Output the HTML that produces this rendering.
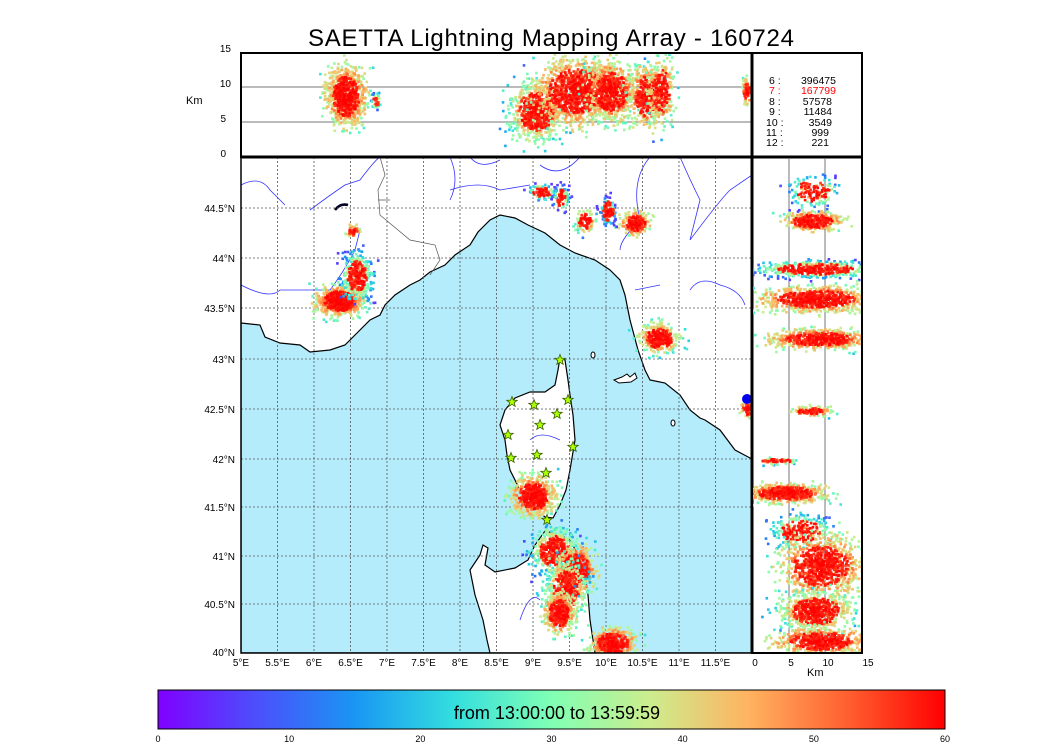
<!DOCTYPE html>
<html><head><meta charset="utf-8"><style>
body{margin:0;background:#fff;width:1050px;height:750px;overflow:hidden;font-family:"Liberation Sans",sans-serif}
svg text{font-family:"Liberation Sans",sans-serif}
</style></head><body>
<svg id="s" width="1050" height="750" viewBox="0 0 1050 750" xmlns="http://www.w3.org/2000/svg">
<defs>
<linearGradient id="rb" x1="0" x2="1" y1="0" y2="0">
<stop offset="0" stop-color="#8000ff"/><stop offset="0.125" stop-color="#4c4ffc"/>
<stop offset="0.25" stop-color="#1996f3"/><stop offset="0.375" stop-color="#33dedf"/>
<stop offset="0.5" stop-color="#80ffb4"/><stop offset="0.625" stop-color="#cced8e"/>
<stop offset="0.75" stop-color="#ffb360"/><stop offset="0.875" stop-color="#ff6030"/>
<stop offset="1" stop-color="#ff0000"/></linearGradient>
<clipPath id="cm"><rect x="241" y="157" width="511" height="496"/></clipPath>
<clipPath id="ct"><rect x="241" y="53" width="511" height="104"/></clipPath>
<clipPath id="cr"><rect x="752" y="157" width="110" height="496"/></clipPath>
</defs>
<text x="551" y="46" font-size="24" text-anchor="middle" textLength="486">SAETTA Lightning Mapping Array - 160724</text>
<g clip-path="url(#cm)">
<rect x="241" y="157" width="511" height="496" fill="#fff"/>
<polygon fill="#b5ecfc" stroke="#000" stroke-width="1.2" points="241,323 260,325 265,337 280,343 300,345 310,352 330,350 345,345 360,330 370,320 380,315 385,305 395,295 410,285 420,280 430,272 445,265 455,255 470,245 478,232 490,220 500,215 515,218 528,225 545,233 560,245 575,253 595,260 610,270 620,280 625,295 630,320 638,350 645,370 650,380 665,383 680,395 690,410 700,418 705,420 720,430 735,450 752,459 752,653 241,653"/>
<polygon fill="#fff" stroke="#000" stroke-width="1.2" points="560,358 565,360 568,380 570,395 573,415 575,440 570,470 566,490 560,505 553,518 545,517 535,508 525,500 520,490 510,470 507,455 505,440 500,425 505,410 515,398 530,392 545,392 555,385 558,370"/>
<polygon fill="#fff" stroke="#000" stroke-width="1.2" points="545,531 560,535 570,540 578,555 585,575 588,595 590,620 595,653 490,653 487,640 483,620 475,595 470,570 480,555 483,545 488,548 485,565 495,572 515,568 528,560 535,545"/>
<path d="M614,380 l8,-3 5,-3 3,3 5,-4 2,5 -6,4 -12,1z" fill="#fff" stroke="#000"/>
<ellipse cx="593" cy="355" rx="2" ry="3" fill="#fff" stroke="#000"/>
<ellipse cx="673" cy="423" rx="2" ry="3" fill="#fff" stroke="#000"/>
<path d="M241,185 Q260,175 270,190 L285,205 M310,210 Q330,195 345,185 L360,180 Q375,160 380,157 M241,285 Q270,300 280,290 L330,290 Q345,270 355,250 L360,230 M450,157 Q460,180 450,200 M450,190 Q480,180 500,190 L530,185 M470,157 Q480,170 500,160 M580,157 Q560,180 540,165 M650,157 Q630,180 640,220 Q620,240 620,250 M680,157 Q690,180 700,200 L690,240 Q720,200 730,190 L752,175 M690,290 Q700,275 720,285 Q740,290 745,305 M635,290 L660,285 M530,440 Q540,430 560,440 M520,620 Q530,590 540,600" fill="none" stroke="#3333ff" stroke-width="0.8"/>
<path d="M380,157 L385,175 L378,190 L380,215 L410,240 L435,245 L440,260 L430,275 M378,200 L390,200" fill="none" stroke="#555" stroke-width="0.7"/>
<path d="M335,210 Q340,203 348,205" stroke="#002" stroke-width="2.5" fill="none"/>
<g id="mgrid" stroke="#555" stroke-width="0.8" stroke-dasharray="2,2"></g>
<g id="mdots"></g>
<g id="stars" fill="#aaff00" stroke="#3a5a00" stroke-width="0.8"></g>
<circle cx="747" cy="399" r="5" fill="#0000ee"/>
</g>
<rect x="241" y="157" width="511" height="496" fill="none" stroke="#000" stroke-width="1.5"/>
<g clip-path="url(#ct)"><line x1="241" x2="752" y1="87" y2="87" stroke="#777"/><line x1="241" x2="752" y1="122" y2="122" stroke="#777"/><g id="tdots"></g></g>
<rect x="241" y="53" width="621" height="104" fill="none" stroke="#000" stroke-width="2"/>
<line x1="752" y1="53" x2="752" y2="653" stroke="#000" stroke-width="3"/>
<line x1="241" y1="157" x2="862" y2="157" stroke="#000" stroke-width="3"/>
<g clip-path="url(#cr)"><line x1="789" x2="789" y1="157" y2="653" stroke="#777"/><line x1="825" x2="825" y1="157" y2="653" stroke="#777"/><g id="rdots"></g></g>
<rect x="752" y="157" width="110" height="496" fill="none" stroke="#000" stroke-width="2"/>
<g font-size="10.5">
<text x="769" y="84">6  :</text><text x="836" y="84" text-anchor="end">396475</text>
<text x="769" y="94" fill="#f00">7  :</text><text x="836" y="94" text-anchor="end" fill="#f00">167799</text>
<text x="769" y="105">8  :</text><text x="832" y="105" text-anchor="end">57578</text>
<text x="769" y="115">9  :</text><text x="832" y="115" text-anchor="end">11484</text>
<text x="766" y="126">10  :</text><text x="832" y="126" text-anchor="end">3549</text>
<text x="766" y="136">11  :</text><text x="829" y="136" text-anchor="end">999</text>
<text x="766" y="146">12  :</text><text x="829" y="146" text-anchor="end">221</text>
</g>
<g font-size="10" text-anchor="end">
<text x="231" y="52">15</text><text x="231" y="87">10</text><text x="226" y="122">5</text><text x="226" y="157">0</text>
</g>
<text x="186" y="104" font-size="11">Km</text>
<g font-size="10" text-anchor="end" id="ylab"></g>
<g font-size="10" text-anchor="middle" id="xlab"></g>
<g font-size="10" text-anchor="middle"><text x="755" y="666">0</text><text x="791" y="666">5</text><text x="828" y="666">10</text><text x="868" y="666">15</text></g>
<text x="807" y="676" font-size="11">Km</text>
<rect x="158" y="690" width="787" height="39" fill="url(#rb)" stroke="#000"/>
<text x="557" y="719" font-size="18" text-anchor="middle">from 13:00:00 to 13:59:59</text>
<g font-size="9" text-anchor="middle" id="cbl"></g>
</svg>
<script>
var NS="http://www.w3.org/2000/svg";
function el(p,t,a,txt){var e=document.createElementNS(NS,t);for(var k in a)e.setAttribute(k,a[k]);if(txt!==undefined)e.textContent=txt;document.getElementById(p).appendChild(e);return e;}
for(var i=1;i<14;i++){var x=241+i*36.5;el("mgrid","line",{x1:x,x2:x,y1:157,y2:653});}
var ys=[208,258,308,359,409,459,507,556,604];
ys.forEach(function(y){el("mgrid","line",{x1:241,x2:752,y1:y,y2:y});});
var yl=["44.5°N","44°N","43.5°N","43°N","42.5°N","42°N","41.5°N","41°N","40.5°N"];
ys.forEach(function(y,i){el("ylab","text",{x:235,y:y+4},yl[i]);});
el("ylab","text",{x:235,y:656},"40°N");
var xl=["5°E","5.5°E","6°E","6.5°E","7°E","7.5°E","8°E","8.5°E","9°E","9.5°E","10°E","10.5°E","11°E","11.5°E"];
xl.forEach(function(t,i){el("xlab","text",{x:241+i*36.5,y:666},t);});
for(var i=0;i<=6;i++)el("cbl","text",{x:158+i*787/6,y:742},""+i*10);
[[560,360],[512,402],[534,405],[568,400],[540,425],[557,414],[508,435],[573,447],[537,455],[511,458],[546,473],[547,520]].forEach(function(p){
var s="";for(var k=0;k<10;k++){var r=k%2?2.3:5.5,a=-Math.PI/2+k*Math.PI/5;s+=(p[0]+r*Math.cos(a)).toFixed(1)+","+(p[1]+r*Math.sin(a)).toFixed(1)+" ";}
el("stars","polygon",{points:s});});
var seed=12345;function rnd(){seed=(seed*16807)%2147483647;return seed/2147483647;}
function gauss(){return (rnd()+rnd()+rnd()+rnd()-2)/0.577;}
function col(t){var st=[[0,128,0,255],[.125,76,79,252],[.25,25,150,243],[.375,51,222,223],[.5,128,255,180],[.625,204,237,142],[.75,255,179,96],[.875,255,96,48],[1,255,0,0]];
for(var i=1;i<st.length;i++)if(t<=st[i][0]){var a=st[i-1],b=st[i],f=(t-a[0])/(b[0]-a[0]);return "rgb("+[1,2,3].map(function(j){return Math.round(a[j]+(b[j]-a[j])*f)}).join(",")+")";}return "red";}
function cluster(g,cx,cy,rx,ry,n,bias){var pts=[];for(var i=0;i<n;i++){var dx=gauss()*0.8,dy=gauss()*0.8;var d=Math.sqrt(dx*dx+dy*dy);var t=Math.min(1,Math.max(0.1,1-d*0.22*bias+(rnd()-0.5)*0.25));if(rnd()<0.75&&d<1.1)t=0.9+rnd()*0.1;pts.push([cx+dx*rx,cy+dy*ry,t]);}
pts.sort(function(a,b){return a[2]-b[2]});pts.forEach(function(p){el(g,"rect",{x:p[0].toFixed(1),y:p[1].toFixed(1),width:2.6,height:2.6,fill:col(p[2])});});}
cluster("mdots",338,300,14,9,700,1);cluster("mdots",356,275,9,14,350,1.8);cluster("mdots",352,230,4,4,40,1);
cluster("mdots",532,495,13,12,650,1);cluster("mdots",553,550,13,14,450,1.6);cluster("mdots",575,568,12,14,500,1);
cluster("mdots",565,590,12,18,400,1.4);cluster("mdots",558,612,9,12,400,1);cluster("mdots",612,642,14,9,450,1);
cluster("mdots",658,337,12,9,350,1.2);cluster("mdots",634,222,9,7,220,1);cluster("mdots",607,210,5,9,120,2.5);
cluster("mdots",584,220,6,7,100,1.3);cluster("mdots",541,191,8,5,90,2);cluster("mdots",560,197,5,8,80,2.2);cluster("mdots",746,408,4,5,60,1);
cluster("tdots",345,95,12,18,900,1);cluster("tdots",375,100,3,5,30,2);cluster("tdots",535,110,16,18,700,1.3);
cluster("tdots",575,90,25,20,1100,1);cluster("tdots",610,90,15,18,600,1);cluster("tdots",645,95,10,18,450,1);cluster("tdots",660,90,8,20,300,1.2);cluster("tdots",746,90,3,8,80,1);
cluster("rdots",812,190,15,10,150,2);cluster("rdots",812,220,18,6,350,1);cluster("rdots",815,268,35,5,450,1.8);
cluster("rdots",815,298,35,8,750,1);cluster("rdots",818,338,30,6,600,1);cluster("rdots",810,410,12,3,100,1);
cluster("rdots",785,492,25,6,500,1);cluster("rdots",800,530,18,10,250,1.8);cluster("rdots",820,565,25,18,900,1);
cluster("rdots",815,610,22,12,600,1.3);cluster("rdots",820,640,28,8,600,1);cluster("rdots",775,460,15,2,60,1.5);
</script>
</body></html>
